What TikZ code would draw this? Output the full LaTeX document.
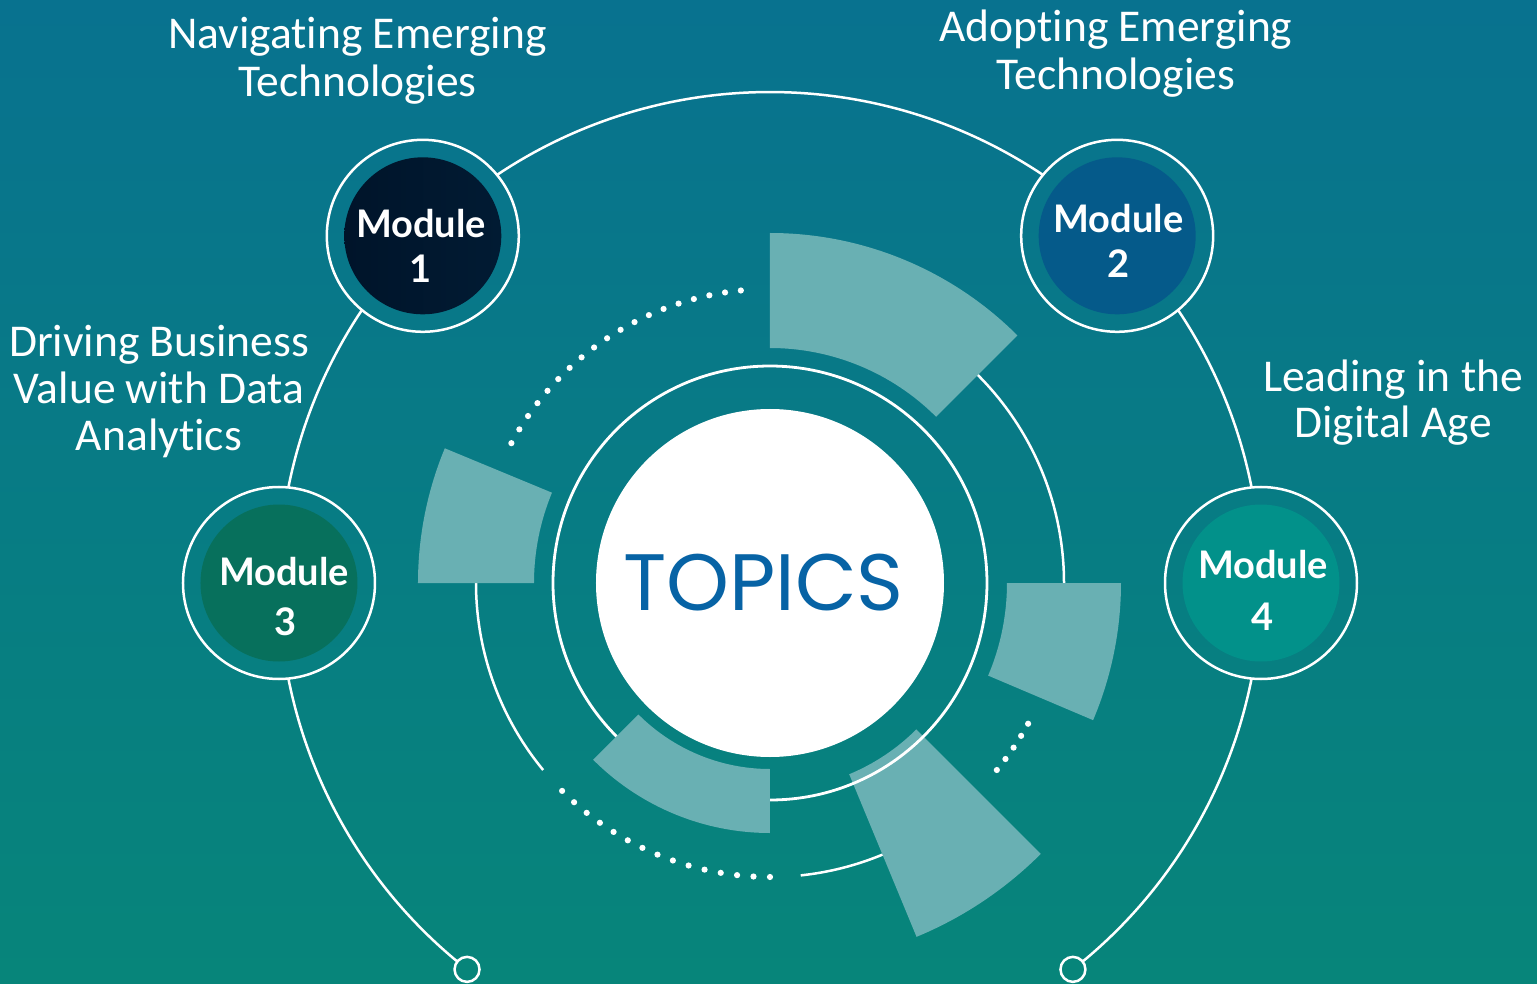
\documentclass[tikz,border=0pt]{standalone}
\usepackage{fontspec}
\setmainfont{Carlito}[Ligatures=NoCommon]
\newfontfamily\modfont{Lato}
\newfontfamily\topfont{Poppins}
\definecolor{bgtop}{HTML}{08728F}
\definecolor{bgbot}{HTML}{07857A}
\definecolor{wedgecol}{HTML}{69B0B3}
\definecolor{mA}{HTML}{011B33}
\definecolor{mAl}{HTML}{00142A}
\definecolor{mB}{HTML}{055A8A}
\definecolor{mC}{HTML}{07705C}
\definecolor{mD}{HTML}{02918A}
\definecolor{topicblue}{HTML}{0763A5}
\tikzset{
  wline/.style={draw=white, line width=2.5pt},
  modring/.style={circle, draw=white, line width=2.5pt, minimum size=192pt, inner sep=0pt},
  modcore/.style={circle, minimum size=157pt, inner sep=0pt},
  modtext/.style={text=white, font=\modfont\bfseries\fontsize{38}{46}\selectfont, anchor=base, inner sep=0pt},
  labtext/.style={text=white, font=\fontsize{45.5}{48}\selectfont, anchor=base, inner sep=0pt},
  dotmark/.style={fill=white},
}
\begin{document}
\begin{tikzpicture}[x=1pt,y=1pt]
\shade[top color=bgtop, bottom color=bgbot] (-770,-400) rectangle (767,583);
\useasboundingbox (-770,-400) rectangle (767,583);

% big connector circle, in segments between the module rings
\draw[wline] (56.22:491) arc[start angle=56.22, end angle=123.78, radius=491];
\draw[wline] (146.22:491) arc[start angle=146.22, end angle=168.78, radius=491];
\draw[wline] (191.22:491) arc[start angle=191.22, end angle=231.9, radius=491];
\draw[wline] (11.22:491) arc[start angle=11.22, end angle=33.78, radius=491];
\draw[wline] (-11.22:491) arc[start angle=-11.22, end angle=-51.9, radius=491];
\coordinate (endL) at (231.9:491);
\coordinate (endR) at (-51.9:491);
\node[circle, draw=white, line width=2.5pt, fill=bgbot, minimum size=25pt, inner sep=0pt] (eL) at (endL) {};
\node[circle, draw=white, line width=2.5pt, fill=bgbot, minimum size=25pt, inner sep=0pt] (eR) at (endR) {};

% middle ring r=294: solid parts
\draw[wline] (60:294) arc[start angle=60, end angle=-10, radius=294];
\draw[wline] (165:294) arc[start angle=165, end angle=219.5, radius=294];
\draw[wline] (-84:294) arc[start angle=-84, end angle=-55, radius=294];
% dotted parts
\foreach \i in {0,...,18} \fill[dotmark] ({151.6-3.106*\i}:294) circle (3.1);
\foreach \i in {0,...,14} \fill[dotmark] ({225+3.214*\i}:294) circle (3.1);
\foreach \i in {0,...,4} \fill[dotmark] ({-39.5+2.725*\i}:294) circle (3.1);

% wedges
\fill[wedgecol] (45:235) arc[start angle=45, end angle=90, radius=235] -- (90:350) arc[start angle=90, end angle=45, radius=350] -- cycle;
\fill[wedgecol] (-23:237) arc[start angle=-23, end angle=0, radius=237] -- (0:351) arc[start angle=0, end angle=-23, radius=351] -- cycle;
\fill[wedgecol] (157.5:236) arc[start angle=157.5, end angle=180, radius=236] -- (180:352) arc[start angle=180, end angle=157.5, radius=352] -- cycle;
\fill[wedgecol] (-67.5:207) arc[start angle=-67.5, end angle=-45, radius=207] -- (-45:383) arc[start angle=-45, end angle=-67.5, radius=383] -- cycle;

% inner ring
\draw[draw=white, line width=2.8pt] (0,0) circle (217);
\fill[wedgecol] (225:186) arc[start angle=225, end angle=270, radius=186] -- (270:250) arc[start angle=270, end angle=225, radius=250] -- cycle;

% centre
\node[circle, fill=white, minimum size=348pt, inner sep=0pt] (topics) at (0,0) {};
\node[text=topicblue, font=\topfont\fontsize{80}{80}\selectfont, inner sep=0pt] (topicstext) at (-6.5,0) {TOPICS};

% modules
\node[modring] (m1) at (135:491) {};
\node[modring] (m2) at (45:491) {};
\node[modring] (m3) at (180:491) {};
\node[modring] (m4) at (0:491) {};
\node[modcore, left color=mAl, right color=mA] (c1) at (m1) {};
\node[modcore, fill=mB] (c2) at (m2) {};
\node[modcore, fill=mC] (c3) at (m3) {};
\node[modcore, fill=mD] (c4) at (m4) {};

\node[modtext] (t1a) at (-349,345) {Module};
\node[modtext] (t1b) at (-349,300) {1};
\node[modtext] (t2a) at (348.5,350) {Module};
\node[modtext] (t2b) at (348.5,305) {2};
\node[modtext] (t3a) at (-486,-2) {Module};
\node[modtext] (t3b) at (-484,-52) {3};
\node[modtext] (t4a) at (493,5) {Module};
\node[modtext] (t4b) at (493,-47) {4};

% labels
\node[labtext] (l1a) at (-412.5,534) {Navigating Emerging};
\node[labtext] (l1b) at (-412.5,486) {Technologies};
\node[labtext] (l2a) at (346,541) {Adopting Emerging};
\node[labtext] (l2b) at (346,493) {Technologies};
\node[labtext] (l3a) at (-611,226) {Driving Business};
\node[labtext] (l3b) at (-611,179) {Value with Data};
\node[labtext] (l3c) at (-611,132) {Analytics};
\node[labtext] (l4a) at (623,191) {Leading in the};
\node[labtext] (l4b) at (623,145) {Digital Age};
\end{tikzpicture}
\end{document}
